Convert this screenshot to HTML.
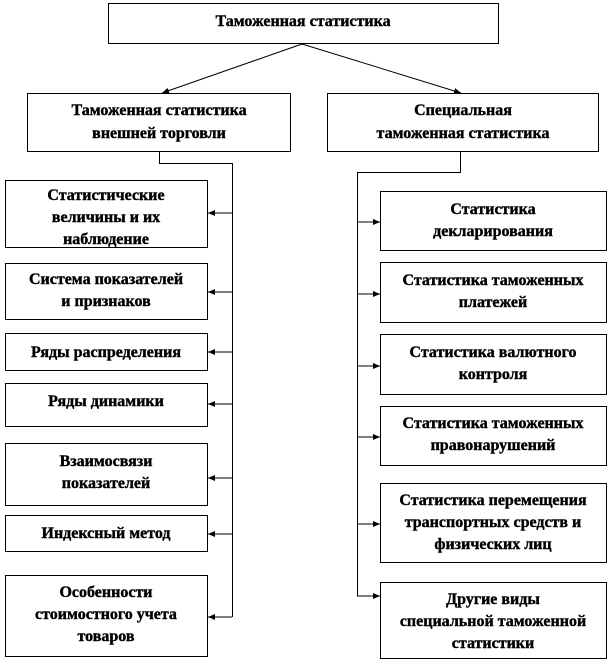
<!DOCTYPE html>
<html><head><meta charset="utf-8"><style>
body{margin:0;background:#fff}
svg{display:block}
text{font-family:"Liberation Serif",serif;font-weight:bold;font-size:16px;fill:#000;stroke:#000;stroke-width:0.4;text-anchor:middle}
.b{fill:#fff;stroke:#000;stroke-width:1}
.l{stroke:#000;stroke-width:1;fill:none}
</style></head><body>
<svg width="610" height="662" viewBox="0 0 610 662">
<defs><marker id="a" markerWidth="8" markerHeight="8" refX="7" refY="4" orient="auto" markerUnits="userSpaceOnUse"><path d="M0,1 L7,4 L0,7z" fill="#000"/></marker></defs>
<rect class="b" x="108.5" y="3.5" width="390" height="40"/>
<text x="303" y="26" font-size="17">Таможенная статистика</text>
<line class="l" x1="302" y1="44" x2="162" y2="93" marker-end="url(#a)"/>
<line class="l" x1="302" y1="44" x2="461" y2="93" marker-end="url(#a)"/>
<rect class="b" x="27.5" y="93.5" width="263" height="58"/>
<text x="159" y="115">Таможенная статистика</text><text x="159" y="138">внешней торговли</text>
<rect class="b" x="327.5" y="93.5" width="271" height="58"/>
<text x="463" y="115">Специальная</text><text x="463" y="138">таможенная статистика</text>
<path class="l" d="M159.5 152 V163.5 H232.5 V617"/>
<path class="l" d="M460.5 152 V172.5 H357.5 V596"/>
<g class="l">
<line x1="232" y1="213" x2="208" y2="213" marker-end="url(#a)"/>
<line x1="232" y1="292" x2="208" y2="292" marker-end="url(#a)"/>
<line x1="232" y1="352" x2="208" y2="352" marker-end="url(#a)"/>
<line x1="232" y1="404" x2="208" y2="404" marker-end="url(#a)"/>
<line x1="232" y1="478" x2="208" y2="478" marker-end="url(#a)"/>
<line x1="232" y1="534" x2="208" y2="534" marker-end="url(#a)"/>
<line x1="232" y1="617" x2="208" y2="617" marker-end="url(#a)"/>
<line x1="357" y1="222" x2="380" y2="222" marker-end="url(#a)"/>
<line x1="357" y1="294" x2="380" y2="294" marker-end="url(#a)"/>
<line x1="357" y1="366" x2="380" y2="366" marker-end="url(#a)"/>
<line x1="357" y1="437" x2="380" y2="437" marker-end="url(#a)"/>
<line x1="357" y1="524" x2="380" y2="524" marker-end="url(#a)"/>
<line x1="357" y1="596" x2="380" y2="596" marker-end="url(#a)"/>
</g>
<g>
<rect class="b" x="5.5" y="180.5" width="202" height="67"/>
<text x="106" y="200">Статистические</text><text x="106" y="222">величины и их</text><text x="106" y="244">наблюдение</text>
<rect class="b" x="5.5" y="263.5" width="202" height="56"/>
<text x="106" y="284">Система показателей</text><text x="106" y="306">и признаков</text>
<rect class="b" x="5.5" y="333.5" width="202" height="37"/>
<text x="106" y="357">Ряды распределения</text>
<rect class="b" x="5.5" y="383.5" width="202" height="43"/>
<text x="106" y="406">Ряды динамики</text>
<rect class="b" x="5.5" y="443.5" width="202" height="62"/>
<text x="106" y="466">Взаимосвязи</text><text x="106" y="488">показателей</text>
<rect class="b" x="5.5" y="515.5" width="202" height="36"/>
<text x="106" y="538">Индексный метод</text>
<rect class="b" x="5.5" y="575.5" width="202" height="81"/>
<text x="106" y="597">Особенности</text><text x="106" y="619">стоимостного учета</text><text x="106" y="641">товаров</text>
</g>
<g>
<rect class="b" x="380.5" y="191.5" width="226" height="59"/>
<text x="493" y="214">Статистика</text><text x="493" y="236">декларирования</text>
<rect class="b" x="380.5" y="262.5" width="226" height="60"/>
<text x="493" y="285">Статистика таможенных</text><text x="493" y="307">платежей</text>
<rect class="b" x="380.5" y="334.5" width="226" height="60"/>
<text x="493" y="357">Статистика валютного</text><text x="493" y="379">контроля</text>
<rect class="b" x="380.5" y="406.5" width="226" height="59"/>
<text x="493" y="428">Статистика таможенных</text><text x="493" y="450">правонарушений</text>
<rect class="b" x="380.5" y="483.5" width="226" height="79"/>
<text x="493" y="505">Статистика перемещения</text><text x="493" y="527">транспортных средств и</text><text x="493" y="549">физических лиц</text>
<rect class="b" x="380.5" y="582.5" width="226" height="76"/>
<text x="493" y="604">Другие виды</text><text x="493" y="626">специальной таможенной</text><text x="493" y="648">статистики</text>
</g>
</svg>
</body></html>
